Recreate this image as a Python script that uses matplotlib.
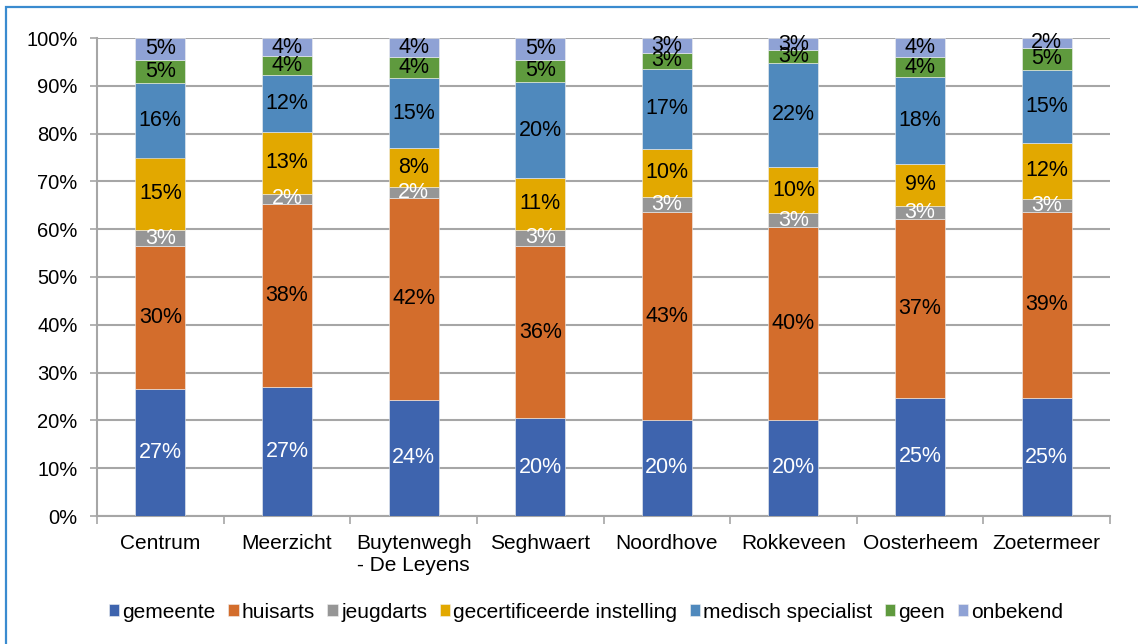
import matplotlib
matplotlib.use("Agg")
import matplotlib.pyplot as plt
from matplotlib.patches import Rectangle
import numpy as np

plt.rcParams['font.family'] = ['Liberation Sans', 'DejaVu Sans']

categories = ["Centrum", "Meerzicht", "Buytenwegh\n- De Leyens", "Seghwaert",
              "Noordhove", "Rokkeveen", "Oosterheem", "Zoetermeer"]
series_names = ["gemeente", "huisarts", "jeugdarts", "gecertificeerde instelling",
                "medisch specialist", "geen", "onbekend"]
gemeente = [26.6, 27.0, 24.3, 20.4, 20.1, 20.1, 24.7, 24.6]
huisarts = [29.8, 38.3, 42.2, 36.1, 43.4, 40.4, 37.4, 39.1]
jeugdarts = [3.4, 2.1, 2.4, 3.4, 3.3, 2.8, 2.8, 2.6]
gecertificeerd = [15.2, 12.9, 8.1, 10.8, 10.0, 9.7, 8.7, 11.8]
medisch = [15.6, 12.0, 14.6, 20.1, 16.7, 21.8, 18.2, 15.3]
geen = [4.8, 3.9, 4.4, 4.6, 3.4, 2.6, 4.2, 4.6]
onbekend = [4.6, 3.8, 4.0, 4.6, 3.1, 2.6, 4.0, 2.0]
yticks = [0, 10, 20, 30, 40, 50, 60, 70, 80, 90, 100]

series = [gemeente, huisarts, jeugdarts, gecertificeerd, medisch, geen, onbekend]
colors = ["#3E64AE", "#D36D2C", "#969696", "#E2A800", "#4F89BD", "#5F9A3E", "#8FA2D5"]
label_colors = ["white", "black", "white", "black", "black", "black", "black"]

fig = plt.figure(figsize=(11.38, 6.44), dpi=100)
ax = fig.add_axes([97/1138, 1-516/644, (1110-97)/1138, (516-38)/644])

# blue frame
fig.patches.append(Rectangle((6/1138, -0.05), 1.2, 1-7/644+0.05, transform=fig.transFigure,
                             fill=False, edgecolor="#3A8BCF", linewidth=1.6, zorder=0))

x = np.arange(len(categories))
bottom = np.zeros(len(categories))
width = 0.395
for vals, col, lc, name in zip(series, colors, label_colors, series_names):
    vals = np.array(vals)
    ax.bar(x, vals, width, bottom=bottom, color=col, label=name,
           edgecolor="#F0F0F0", linewidth=0.4, zorder=3)
    for xi, b, v in zip(x, bottom, vals):
        ax.text(xi, b + v/2, f"{int(round(v))}%", ha="center", va="center",
                color=lc, fontsize=15.5, zorder=4)
    bottom += vals

ax.set_xlim(-0.5, len(categories)-0.5)
ax.set_ylim(0, 100)
ax.set_yticks(yticks)
ax.set_yticklabels([f"{t}%" for t in yticks], fontsize=14.5)
ax.yaxis.grid(True, color="#A6A6A6", linewidth=1.5, zorder=0)
ax.tick_params(axis='y', length=5, color="#A6A6A6", width=1.2, pad=9)

ax.set_xticks(x)
ax.set_xticklabels(categories, fontsize=15)
ax.tick_params(axis='x', which='major', length=0, pad=13)
ax.set_xticks(np.arange(-0.5, len(categories), 1.0), minor=True)
ax.tick_params(axis='x', which='minor', length=6, color="#A6A6A6", width=1.2)

for s in ["top", "right"]:
    ax.spines[s].set_visible(False)
for s in ["left", "bottom"]:
    ax.spines[s].set_color("#A6A6A6")
    ax.spines[s].set_linewidth(1.5)

leg = fig.legend(loc="center", bbox_to_anchor=(586/1138, 1-612/644), ncol=7, frameon=False,
                 fontsize=15, handlelength=0.5, handleheight=0.5, handletextpad=0.15,
                 columnspacing=0.6)

fig.savefig("out.png", dpi=100)
